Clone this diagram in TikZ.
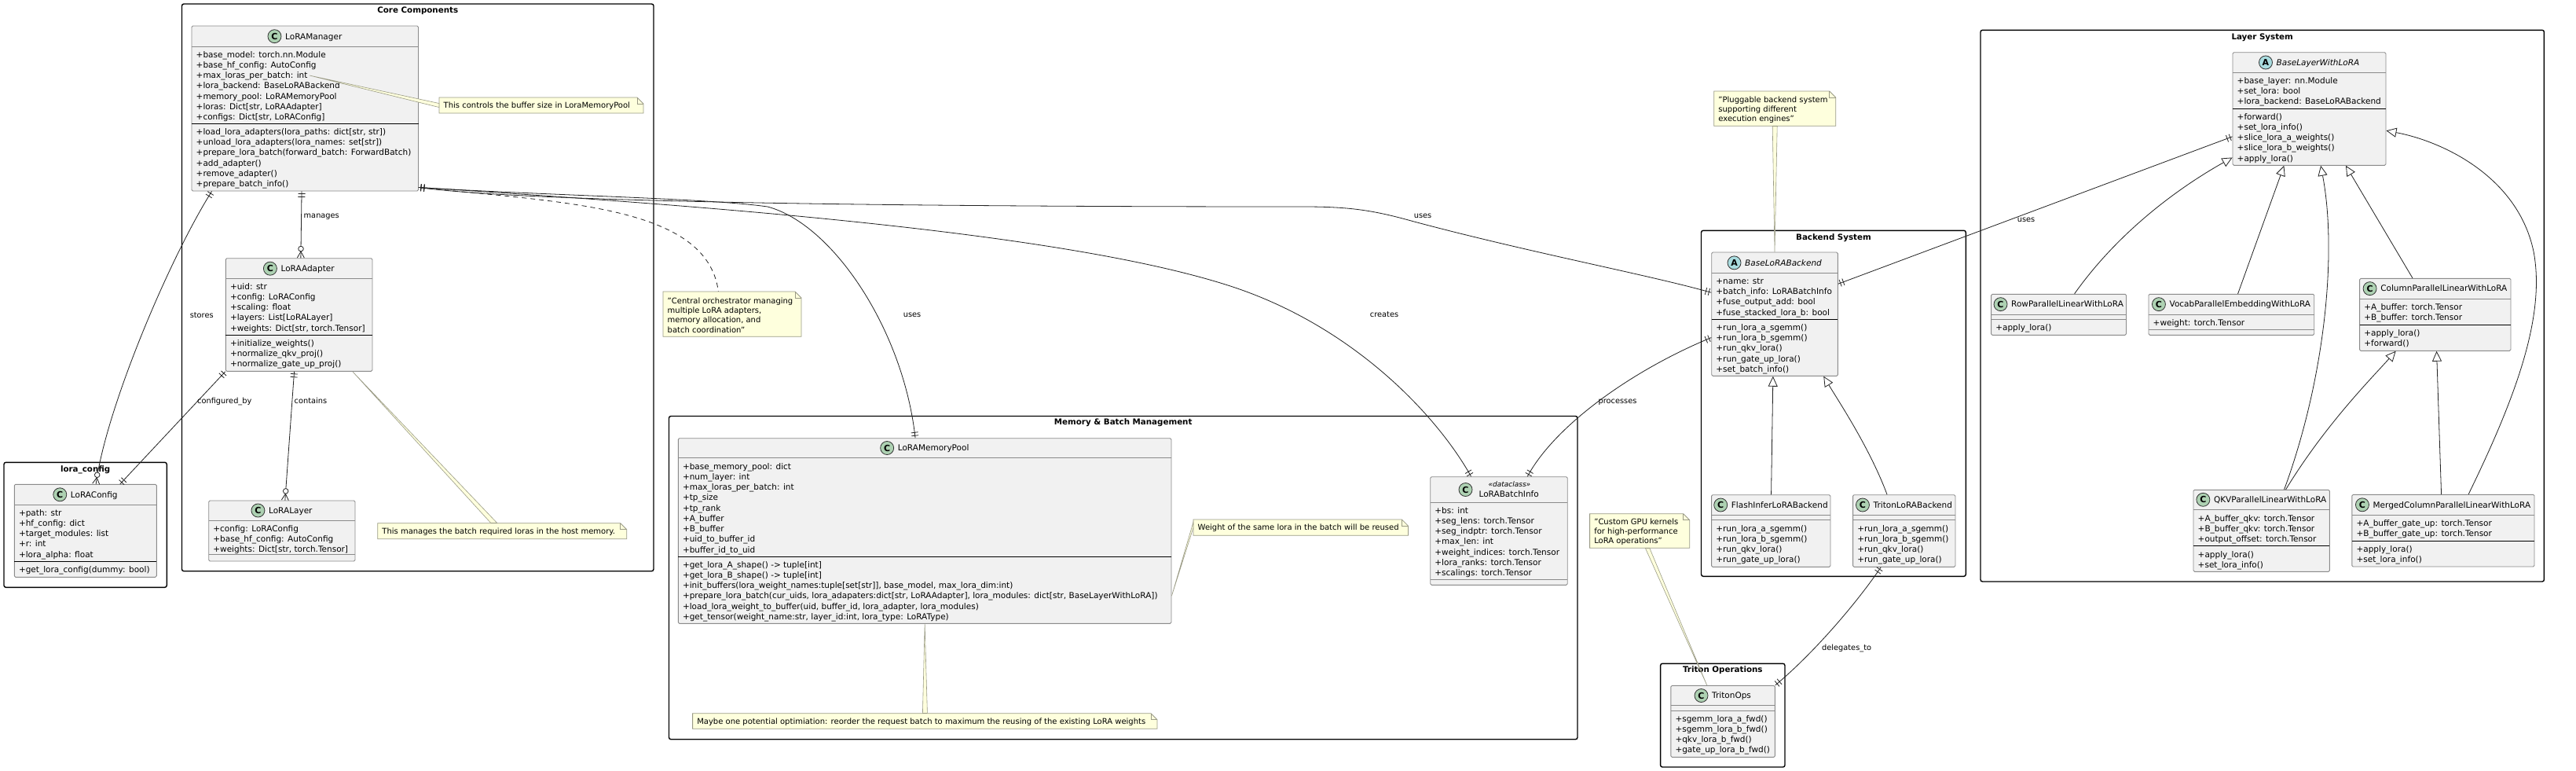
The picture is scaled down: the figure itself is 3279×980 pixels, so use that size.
\documentclass[tikz,border=0pt]{standalone}
\usepackage{fontspec}
\setmainfont{DejaVu Sans}
\usetikzlibrary{arrows.meta, decorations.markings, fit, calc}

\definecolor{classfill}{HTML}{F1F1F1}
\definecolor{cborder}{HTML}{8A8A8A}
\definecolor{cgreen}{HTML}{ADD1B2}
\definecolor{cblue}{HTML}{A9DCDF}
\definecolor{notefill}{HTML}{FEFFDD}
\definecolor{nborder}{HTML}{9A9A86}
\definecolor{linecol}{HTML}{222222}

% class box: id, left, top, right, bottom
\newcommand{\clsbox}[5]{\node[classbox, fit={(#2,#3) (#4,#5)}] (#1) {};}
% header: id, letter, x centre, y centre, name
\newcommand{\clshead}[5]{%
  \node[cname, anchor=base] (#1-n) at (#3+11,#4+3.8) {#5};
  \node[circ#2] (#1-c) at ([xshift=-13.5pt, yshift=3.8pt]#1-n.base west) {#2};}
% members: id, box left, centre of first line, lines
\newcommand{\clsmem}[4]{\node[memtext] (#1) at (#2+5.5,#3-5.7) {\strut#4};}
% separators: x1, x2, y
\newcommand{\graysep}[3]{\draw[hline] (#1,#3) -- (#2,#3);}
\newcommand{\blacksep}[3]{\draw[bline] (#1,#3) -- (#2,#3);}
% note: id, left, top, right, bottom
\newcommand{\umlnotebox}[5]{%
  \path[notebg] (#2,#3) -- (#4-8,#3) -- (#4,#3+8) -- (#4,#5) -- (#2,#5) -- cycle;
  \draw[notebg, fill=none] (#4-8,#3) -- (#4-8,#3+8) -- (#4,#3+8);
  \node[inner sep=0pt, fit={(#2,#3) (#4,#5)}] (#1) {};}

\begin{document}
\begin{tikzpicture}[x=1pt, y=-1pt,
  classbox/.style={draw=cborder, fill=classfill, line width=0.9pt, rounded corners=1.5pt, inner sep=0pt},
  hline/.style={draw=cborder, line width=0.9pt},
  bline/.style={draw=black, line width=1.1pt},
  cname/.style={font=\fontsize{10.5}{12}\selectfont, inner sep=0pt},
  circC/.style={circle, draw=black!80, line width=0.8pt, fill=cgreen, minimum size=17pt, inner sep=0pt, font=\bfseries\fontsize{11}{11}\selectfont},
  circA/.style={circle, draw=black!80, line width=0.8pt, fill=cblue, minimum size=17pt, inner sep=0pt, font=\bfseries\fontsize{11}{11}\selectfont},
  memtext/.style={anchor=north west, inner sep=0pt, align=left, font=\fontsize{10.5}{13.25}\selectfont},
  notetext/.style={anchor=north west, inner sep=0pt, align=left, font=\fontsize{10}{12.3}\selectfont},
  notebg/.style={draw=nborder, fill=notefill, line width=0.8pt},
  wedge/.style={draw=nborder, fill=notefill, line width=0.6pt},
  pkg/.style={draw=black, line width=1.4pt, rounded corners=2.5pt, inner sep=0pt},
  pkgtitle/.style={font=\bfseries\fontsize{10.3}{12}\selectfont, inner sep=0pt, text height=7.6pt, text depth=2pt},
  lbl/.style={font=\fontsize{9.8}{12}\selectfont, inner sep=0pt, text height=7.5pt, text depth=2pt},
  conn/.style={draw=linecol, line width=0.8pt},
  onestart/.style={postaction={decorate, decoration={markings,
     mark=at position 3pt with {\draw[conn] (0,-4.5pt) -- (0,4.5pt);},
     mark=at position 7pt with {\draw[conn] (0,-4.5pt) -- (0,4.5pt);}}}},
  oneend/.style={postaction={decorate, decoration={markings,
     mark=at position -3pt with {\draw[conn] (0,-4.5pt) -- (0,4.5pt);},
     mark=at position -7pt with {\draw[conn] (0,-4.5pt) -- (0,4.5pt);}}}},
  manyend/.style={postaction={decorate, decoration={markings,
     mark=at position -0.2pt with {\draw[conn] (-8pt,0) -- (0,4.5pt) (-8pt,0) -- (0,-4.5pt);
        \draw[conn, fill=white] (-11.5pt,0) circle (3.3pt);}}}},
  inh/.style={conn, -{Triangle[length=13pt, width=12pt, fill=white, line width=0.8pt]}}
]
\useasboundingbox (0,0) rectangle (3279,980);
\fill[white] (0,0) rectangle (3279,980);

% ---------------- packages ----------------
\node[pkg, fit={(231.5,5) (832,726.7)}] (pcore) {};
\node[pkgtitle] (pcore-t) at (531.75,14) {Core Components};
\node[pkg, fit={(5,588.3) (212.3,747.3)}] (pcfg) {};
\node[pkgtitle] (pcfg-t) at (108.7,597.3) {lora\_config};
\node[pkg, fit={(851.5,529.5) (2008,940.7)}] (pmem) {};
\node[pkgtitle] (pmem-t) at (1429.7,538) {Memory \& Batch Management};
\node[pkg, fit={(2165.5,293.3) (2502.3,733.3)}] (pback) {};
\node[pkgtitle] (pback-t) at (2334,302.3) {Backend System};
\node[pkg, fit={(2113.6,844.3) (2272,976)}] (ptri) {};
\node[pkgtitle] (ptri-t) at (2192.8,852.3) {Triton Operations};
\node[pkg, fit={(2521,38.3) (3238.4,740)}] (player) {};
\node[pkgtitle] (player-t) at (2879.7,47.3) {Layer System};

% ---------------- LoRAManager ----------------
\clsbox{mgr}{244}{33}{532.5}{243}
\clshead{mgr}{C}{388.25}{46.2}{LoRAManager}
\graysep{244}{532.5}{59.3}
\clsmem{mgr-a}{244}{69.3}{+base\_model: torch.nn.Module\\+base\_hf\_config: AutoConfig\\+max\_loras\_per\_batch: int\\+lora\_backend: BaseLoRABackend\\+memory\_pool: LoRAMemoryPool\\+loras: Dict[str, LoRAAdapter]\\+configs: Dict[str, LoRAConfig]}
\blacksep{244}{532.5}{157.3}
\clsmem{mgr-m}{244}{167.7}{+load\_lora\_adapters(lora\_paths: dict[str, str])\\+unload\_lora\_adapters(lora\_names: set[str])\\+prepare\_lora\_batch(forward\_batch: ForwardBatch)\\+add\_adapter()\\+remove\_adapter()\\+prepare\_batch\_info()}
\coordinate (mgr-maxloras) at (394,96);

% ---------------- LoRAAdapter ----------------
\clsbox{adapter}{287.3}{328.7}{474}{472.3}
\clshead{adapter}{C}{380.65}{341.7}{LoRAAdapter}
\graysep{287.3}{474}{354.7}
\clsmem{adapter-a}{287.3}{364.3}{+uid: str\\+config: LoRAConfig\\+scaling: float\\+layers: List[LoRALayer]\\+weights: Dict[str, torch.Tensor]}
\blacksep{287.3}{474}{426.7}
\clsmem{adapter-m}{287.3}{436.7}{+initialize\_weights()\\+normalize\_qkv\_proj()\\+normalize\_gate\_up\_proj()}

% ---------------- LoRALayer ----------------
\clsbox{layer}{265.7}{637}{452}{714}
\clshead{layer}{C}{358.85}{649.5}{LoRALayer}
\graysep{265.7}{452}{662}
\clsmem{layer-a}{265.7}{672.3}{+config: LoRAConfig\\+base\_hf\_config: AutoConfig\\+weights: Dict[str, torch.Tensor]}
\graysep{265.7}{452}{705}

% ---------------- LoRAConfig ----------------
\clsbox{config}{18.3}{616.3}{199.3}{734.3}
\clshead{config}{C}{108.8}{629.3}{LoRAConfig}
\graysep{18.3}{199.3}{642.3}
\clsmem{config-a}{18.3}{652.3}{+path: str\\+hf\_config: dict\\+target\_modules: list\\+r: int\\+lora\_alpha: float}
\blacksep{18.3}{199.3}{714.7}
\clsmem{config-m}{18.3}{725}{+get\_lora\_config(dummy: bool)}

% ---------------- LoRAMemoryPool ----------------
\clsbox{pool}{863.3}{557.7}{1491}{793.3}
\clshead{pool}{C}{1177.15}{570}{LoRAMemoryPool}
\graysep{863.3}{1491}{582.3}
\clsmem{pool-a}{863.3}{593.3}{+base\_memory\_pool: dict\\+num\_layer: int\\+max\_loras\_per\_batch: int\\+tp\_size\\+tp\_rank\\+A\_buffer\\+B\_buffer\\+uid\_to\_buffer\_id\\+buffer\_id\_to\_uid}
\blacksep{863.3}{1491}{708.3}
\clsmem{pool-m}{863.3}{718.3}{+get\_lora\_A\_shape() -> tuple[int]\\+get\_lora\_B\_shape() -> tuple[int]\\+init\_buffers(lora\_weight\_names:tuple[set[str]], base\_model, max\_lora\_dim:int)\\+prepare\_lora\_batch(cur\_uids, lora\_adapaters:dict[str, LoRAAdapter], lora\_modules: dict[str, BaseLayerWithLoRA])\\+load\_lora\_weight\_to\_buffer(uid, buffer\_id, lora\_adapter, lora\_modules)\\+get\_tensor(weight\_name:str, layer\_id:int, lora\_type: LoRAType)}

% ---------------- LoRABatchInfo ----------------
\clsbox{batch}{1820.7}{606.7}{1995.2}{744.3}
\node[cname, anchor=base, font=\itshape\fontsize{9}{10}\selectfont] (batch-s) at (1921.4,619.9) {«dataclass»};
\node[cname, anchor=base] (batch-n) at (1920.7,632.5) {LoRABatchInfo};
\node[circC] (batch-c) at (1865.5,623) {C};
\graysep{1820.7}{1995.2}{639.3}
\clsmem{batch-a}{1820.7}{649.3}{+bs: int\\+seg\_lens: torch.Tensor\\+seg\_indptr: torch.Tensor\\+max\_len: int\\+weight\_indices: torch.Tensor\\+lora\_ranks: torch.Tensor\\+scalings: torch.Tensor}
\graysep{1820.7}{1995.2}{737.3}

% ---------------- BaseLoRABackend ----------------
\clsbox{backend}{2178.7}{321}{2339.3}{478.3}
\clshead{backend}{A}{2259}{334.35}{\itshape BaseLoRABackend}
\graysep{2178.7}{2339.3}{347.7}
\clsmem{backend-a}{2178.7}{357.7}{+name: str\\+batch\_info: LoRABatchInfo\\+fuse\_output\_add: bool\\+fuse\_stacked\_lora\_b: bool}
\blacksep{2178.7}{2339.3}{406.3}
\clsmem{backend-m}{2178.7}{416.7}{+run\_lora\_a\_sgemm()\\+run\_lora\_b\_sgemm()\\+run\_qkv\_lora()\\+run\_gate\_up\_lora()\\+set\_batch\_info()}

% ---------------- FlashInferLoRABackend ----------------
\clsbox{flash}{2178.6}{629.7}{2330}{721.3}
\clshead{flash}{C}{2254.3}{642.5}{FlashInferLoRABackend}
\graysep{2178.6}{2330}{655.3}
\graysep{2178.6}{2330}{661}
\clsmem{flash-m}{2178.6}{672.3}{+run\_lora\_a\_sgemm()\\+run\_lora\_b\_sgemm()\\+run\_qkv\_lora()\\+run\_gate\_up\_lora()}

% ---------------- TritonLoRABackend ----------------
\clsbox{tritonbe}{2358.6}{629.7}{2489}{721.3}
\clshead{tritonbe}{C}{2423.8}{642.5}{TritonLoRABackend}
\graysep{2358.6}{2489}{655.3}
\graysep{2358.6}{2489}{661}
\clsmem{tritonbe-m}{2358.6}{672.3}{+run\_lora\_a\_sgemm()\\+run\_lora\_b\_sgemm()\\+run\_qkv\_lora()\\+run\_gate\_up\_lora()}

% ---------------- TritonOps ----------------
\clsbox{ops}{2126.8}{872.3}{2259.3}{963.3}
\clshead{ops}{C}{2193.05}{885}{TritonOps}
\graysep{2126.8}{2259.3}{897.7}
\graysep{2126.8}{2259.3}{904}
\clsmem{ops-m}{2126.8}{914.3}{+sgemm\_lora\_a\_fwd()\\+sgemm\_lora\_b\_fwd()\\+qkv\_lora\_b\_fwd()\\+gate\_up\_lora\_b\_fwd()}

% ---------------- BaseLayerWithLoRA ----------------
\clsbox{baselayer}{2842}{66.7}{3037}{210.3}
\clshead{baselayer}{A}{2939.5}{79.5}{\itshape BaseLayerWithLoRA}
\graysep{2842}{3037}{92.3}
\clsmem{baselayer-a}{2842}{102.3}{+base\_layer: nn.Module\\+set\_lora: bool\\+lora\_backend: BaseLoRABackend}
\blacksep{2842}{3037}{138.3}
\clsmem{baselayer-m}{2842}{148.3}{+forward()\\+set\_lora\_info()\\+slice\_lora\_a\_weights()\\+slice\_lora\_b\_weights()\\+apply\_lora()}

% ---------------- RowParallelLinearWithLoRA ----------------
\clsbox{row}{2534.6}{374.3}{2706.5}{426.3}
\clshead{row}{C}{2620.55}{387.15}{RowParallelLinearWithLoRA}
\graysep{2534.6}{2706.5}{400}
\graysep{2534.6}{2706.5}{406}
\clsmem{row-m}{2534.6}{417}{+apply\_lora()}

% ---------------- VocabParallelEmbeddingWithLoRA ----------------
\clsbox{vocab}{2735}{374.3}{2945.7}{426.3}
\clshead{vocab}{C}{2840.35}{387.15}{VocabParallelEmbeddingWithLoRA}
\graysep{2735}{2945.7}{400}
\clsmem{vocab-a}{2735}{410.3}{+weight: torch.Tensor}
\graysep{2735}{2945.7}{419}

% ---------------- ColumnParallelLinearWithLoRA ----------------
\clsbox{column}{3003.6}{354.3}{3196}{446.3}
\clshead{column}{C}{3099.8}{367.15}{ColumnParallelLinearWithLoRA}
\graysep{3003.6}{3196}{380}
\clsmem{column-a}{3003.6}{390.7}{+A\_buffer: torch.Tensor\\+B\_buffer: torch.Tensor}
\blacksep{3003.6}{3196}{413.3}
\clsmem{column-m}{3003.6}{423.7}{+apply\_lora()\\+forward()}

% ---------------- QKVParallelLinearWithLoRA ----------------
\clsbox{qkv}{2792}{623.3}{2965.3}{727.3}
\clshead{qkv}{C}{2878.65}{635.8}{QKVParallelLinearWithLoRA}
\graysep{2792}{2965.3}{648.3}
\clsmem{qkv-a}{2792}{659.3}{+A\_buffer\_qkv: torch.Tensor\\+B\_buffer\_qkv: torch.Tensor\\+output\_offset: torch.Tensor}
\blacksep{2792}{2965.3}{694.3}
\clsmem{qkv-m}{2792}{705.3}{+apply\_lora()\\+set\_lora\_info()}

% ---------------- MergedColumnParallelLinearWithLoRA ----------------
\clsbox{merged}{2993.8}{629.3}{3226}{721}
\clshead{merged}{C}{3109.9}{642.3}{MergedColumnParallelLinearWithLoRA}
\graysep{2993.8}{3226}{655.3}
\clsmem{merged-a}{2993.8}{665.7}{+A\_buffer\_gate\_up: torch.Tensor\\+B\_buffer\_gate\_up: torch.Tensor}
\blacksep{2993.8}{3226}{688.3}
\clsmem{merged-m}{2993.8}{698.7}{+apply\_lora()\\+set\_lora\_info()}

% ---------------- notes ----------------
\umlnotebox{n1}{559}{124}{819}{144}
\node[notetext] (n1-t) at (564.5,128.8) {\strut This controls the buffer size in LoraMemoryPool};
\umlnotebox{n2}{844}{371}{1020}{428.3}
\node[notetext] (n2-t) at (849.5,377.3) {\strut"Central orchestrator managing\\multiple LoRA adapters,\\memory allocation, and\\batch coordination"};
\umlnotebox{n3}{480.7}{665.7}{797.7}{685.7}
\node[notetext] (n3-t) at (486.2,670.5) {\strut This manages the batch required loras in the host memory.};
\umlnotebox{n4}{1519}{661}{1792.4}{681.3}
\node[notetext] (n4-t) at (1524.5,666) {\strut Weight of the same lora in the batch will be reused};
\umlnotebox{n5}{881.6}{907.7}{1473}{927.3}
\node[notetext] (n5-t) at (887.1,912.3) {\strut Maybe one potential optimiation: reorder the request batch to maximum the reusing of the existing LoRA weights};
\umlnotebox{n6}{2181.7}{116}{2336.7}{160.3}
\node[notetext] (n6-t) at (2187.2,121.5) {\strut"Pluggable backend system\\supporting different\\execution engines"};
\umlnotebox{n7}{2023.6}{653.7}{2150.7}{697.3}
\node[notetext] (n7-t) at (2029.1,658.5) {\strut"Custom GPU kernels\\for high-performance\\LoRA operations"};

% note links
\path[wedge] (mgr-maxloras) -- ([yshift=2.5pt]n1.west) -- ([yshift=-2.5pt]n1.west) -- cycle;
\path[wedge] ([xshift=-25.7pt]adapter.south east) -- ([xshift=144.3pt]n3.north west) -- ([xshift=152.3pt]n3.north west) -- cycle;
\path[wedge] ([yshift=35.6pt]pool.south east) -- ([yshift=-4pt]n4.north west) -- ([yshift=-11pt]n4.north west) -- cycle;
\path[wedge] ([xshift=314.3pt]pool.south west) -- ([xshift=293pt]n5.north west) -- ([xshift=299pt]n5.north west) -- cycle;
\path[wedge] (backend.north) -- ([xshift=-3pt]n6.south) -- ([xshift=3pt]n6.south) -- cycle;
\path[wedge] ([xshift=46.4pt]ops.north west) -- ([xshift=71pt]n7.south west) -- ([xshift=76.4pt]n7.south west) -- cycle;
\draw[conn, dash pattern=on 6pt off 5pt] ([yshift=5pt]mgr.south east) .. controls (720,258) and (900,262) .. ([xshift=70.6pt]n2.north west);

% ---------------- relations ----------------
\draw[conn, onestart, manyend] ([xshift=140.5pt]mgr.south west) -- ([xshift=96pt]adapter.north west);
\draw[conn, onestart, manyend] ([xshift=26pt]mgr.south west) .. controls (215,330) and (135,520) .. ([xshift=104.3pt]config.north west);
\draw[conn, onestart, oneend] (adapter.south west) -- ([xshift=135pt]config.north west);
\draw[conn, onestart, manyend] ([xshift=87.7pt]adapter.south west) -- ([xshift=97.6pt]layer.north west);
\draw[conn, onestart, oneend] ([yshift=5pt]mgr.south east) .. controls (700,249) and (900,252) .. (977,263) .. controls (1060,285) and (1150,420) .. ([xshift=302.2pt]pool.north west);
\draw[conn, onestart, oneend] ([yshift=5pt]mgr.south east) .. controls (900,262) and (1350,295) .. (1563,363) .. controls (1723,414) and (1830,530) .. ([xshift=52.3pt]batch.north west);
\draw[conn, onestart, oneend] ([yshift=5pt]mgr.south east) .. controls (700,262) and (1400,263) .. (1660,263) .. controls (1720,263) and (1750,268) .. (1800,282) .. controls (1950,322) and (2100,350) .. ([yshift=-51.7pt]backend.north west);
\draw[conn, onestart, oneend] ([yshift=-109pt]backend.north west) .. controls (2080,470) and (1980,540) .. ([xshift=124pt]batch.north west);
\draw[conn, onestart, oneend] ([yshift=-107.6pt]baselayer.north west) -- ([yshift=-40.7pt]backend.north east);
\draw[conn, onestart, oneend] ([xshift=36pt]tritonbe.south west) .. controls (2365,765) and (2310,830) .. (ops.north east);

% inheritance
\draw[inh] ([xshift=76.4pt]flash.north west) -- ([xshift=78.6pt]backend.south west);
\draw[inh] ([xshift=43.9pt]tritonbe.north west) .. controls (2380,570) and (2340,510) .. ([xshift=143pt]backend.south west);
\draw[inh] ([xshift=106.4pt]row.north west) .. controls (2700,290) and (2780,235) .. ([yshift=10.3pt]baselayer.south west);
\draw[inh] ([xshift=114pt]vocab.north west) -- ([xshift=65.8pt]baselayer.south west);
\draw[inh] ([xshift=116pt]qkv.north west) .. controls (2960,480) and (2975,320) .. ([xshift=112.5pt]baselayer.south west);
\draw[inh] ([xshift=118pt]qkv.north west) .. controls (2960,540) and (3020,480) .. ([xshift=46.4pt]column.south west);
\draw[inh] ([xshift=67.8pt]column.north west) -- ([xshift=144.4pt]baselayer.south west);
\draw[inh] ([xshift=114.2pt]merged.north west) -- ([xshift=98.4pt]column.south west);
\draw[inh] ([xshift=148.8pt]merged.north west) .. controls (3205,500) and (3240,400) .. (3225,320) .. controls (3205,225) and (3110,180) .. ([yshift=-100pt]baselayer.north east);

% labels
\node[lbl, anchor=west] (l-manages) at (386.5,275) {manages};
\node[lbl] (l-stores) at (256.7,401.3) {stores};
\node[lbl, anchor=west] (l-conf) at (251,510.3) {configured\_by};
\node[lbl, anchor=west] (l-contains) at (374.5,510.3) {contains};
\node[lbl] (l-uses1) at (1161,401) {uses};
\node[lbl] (l-creates) at (1762,401) {creates};
\node[lbl] (l-uses2) at (1811,275) {uses};
\node[lbl] (l-proc) at (2059,510.7) {processes};
\node[lbl] (l-uses3) at (2579,280) {uses};
\node[lbl] (l-deleg) at (2350.6,825) {delegates\_to};
\end{tikzpicture}
\end{document}
